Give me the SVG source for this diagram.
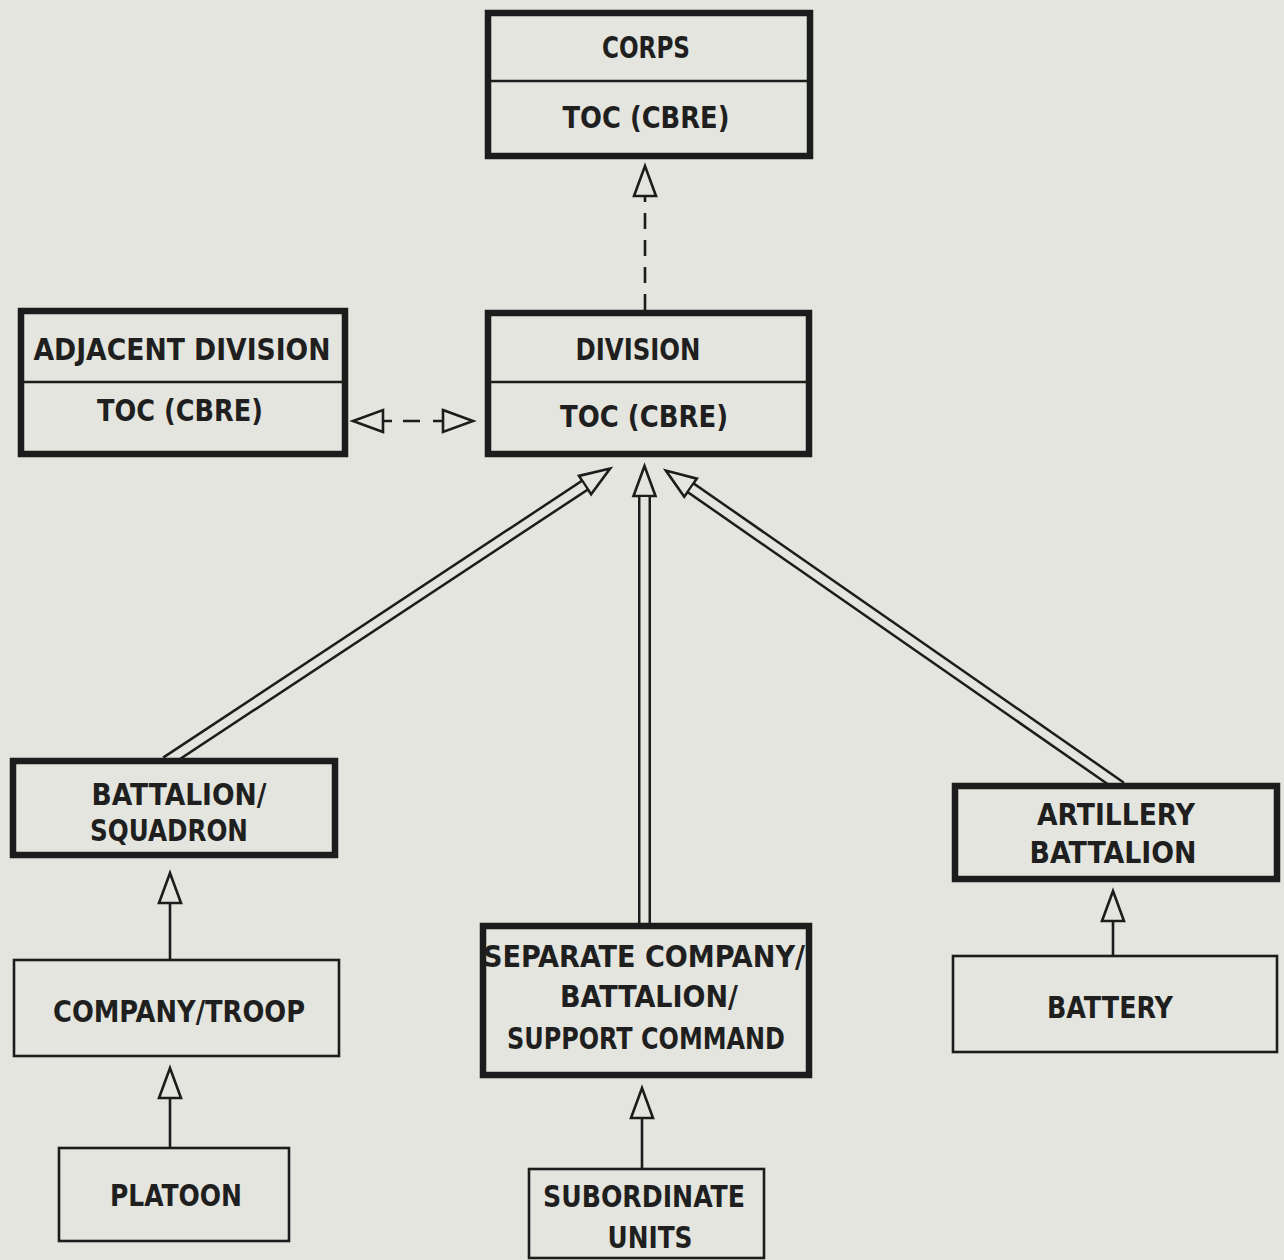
<svg xmlns="http://www.w3.org/2000/svg" width="1284" height="1260" viewBox="0 0 1284 1260">
<defs>
<style>
.bg{fill:#e4e5de}
.thick{fill:#e4e5de;stroke:#1c1c1c;stroke-width:6.5}
.thin{fill:#e4e5de;stroke:#1c1c1c;stroke-width:2.6}
.div{stroke:#1c1c1c;stroke-width:2.6}
.t{font-family:"DejaVu Sans Condensed","DejaVu Sans",sans-serif;font-weight:bold;font-size:30px;fill:#1f1f1f;text-anchor:middle}
.ln{stroke:#1c1c1c;stroke-width:2.6;fill:none}
.dark{stroke:#1c1c1c;stroke-width:13;fill:none}
.light{stroke:#e4e5de;stroke-width:8;fill:none}
</style>
<marker id="ah" markerUnits="userSpaceOnUse" markerWidth="40" markerHeight="30" refX="1" refY="11" orient="auto-start-reverse" overflow="visible">
<path d="M0,0 L30,11 L0,22 Z" fill="#e4e5de" stroke="#1c1c1c" stroke-width="2.6" stroke-linejoin="miter"/>
</marker>
</defs>
<rect class="bg" x="0" y="0" width="1284" height="1260"/>
<g id="connectors">
<line class="ln" x1="645" y1="310" x2="645" y2="195" stroke-dasharray="16 11" marker-end="url(#ah)"/>
<line class="ln" x1="382" y1="421" x2="444" y2="421" stroke-dasharray="10 11 17 13 11" marker-start="url(#ah)" marker-end="url(#ah)"/>
<line class="dark" x1="644.5" y1="926" x2="644.5" y2="495" marker-end="url(#ah)"/>
<line class="light" x1="644.5" y1="926" x2="644.5" y2="497"/>
<line class="dark" x1="166" y1="762" x2="585.9" y2="484.5" marker-end="url(#ah)"/>
<line class="light" x1="166" y1="762" x2="584.2" y2="485.6"/>
<line class="dark" x1="1121" y1="787" x2="689.7" y2="487.1" marker-end="url(#ah)"/>
<line class="light" x1="1121" y1="787" x2="691.3" y2="488.2"/>
<line class="ln" x1="170" y1="960" x2="170" y2="902" marker-end="url(#ah)"/>
<line class="ln" x1="170" y1="1148" x2="170" y2="1097" marker-end="url(#ah)"/>
<line class="ln" x1="642" y1="1169" x2="642" y2="1117" marker-end="url(#ah)"/>
<line class="ln" x1="1113" y1="956" x2="1113" y2="920" marker-end="url(#ah)"/>
</g>
<g id="corps">
<rect class="thick" x="488" y="13" width="322" height="143"/>
<line class="div" x1="488" y1="81" x2="810" y2="81"/>
<text class="t" x="646" y="58" textLength="88" lengthAdjust="spacingAndGlyphs">CORPS</text>
<text class="t" x="646" y="128" textLength="167" lengthAdjust="spacingAndGlyphs">TOC (CBRE)</text>
</g>
<g id="division">
<rect class="thick" x="488" y="313" width="321" height="141"/>
<line class="div" x1="488" y1="382" x2="809" y2="382"/>
<text class="t" x="638" y="360" textLength="125" lengthAdjust="spacingAndGlyphs">DIVISION</text>
<text class="t" x="644" y="427" textLength="168" lengthAdjust="spacingAndGlyphs">TOC (CBRE)</text>
</g>
<g id="adjacent-division">
<rect class="thick" x="21" y="311" width="324" height="143"/>
<line class="div" x1="21" y1="382" x2="345" y2="382"/>
<text class="t" x="182" y="360" textLength="297" lengthAdjust="spacingAndGlyphs">ADJACENT DIVISION</text>
<text class="t" x="180" y="421" textLength="166" lengthAdjust="spacingAndGlyphs">TOC (CBRE)</text>
</g>
<g id="battalion-squadron">
<rect class="thick" x="13" y="761" width="322" height="94"/>
<text class="t" x="179" y="805" textLength="175" lengthAdjust="spacingAndGlyphs">BATTALION/</text>
<text class="t" x="169" y="841" textLength="158" lengthAdjust="spacingAndGlyphs">SQUADRON</text>
</g>
<g id="company-troop">
<rect class="thin" x="14" y="960" width="325" height="96"/>
<text class="t" x="179" y="1022" textLength="252" lengthAdjust="spacingAndGlyphs">COMPANY/TROOP</text>
</g>
<g id="platoon">
<rect class="thin" x="59" y="1148" width="230" height="93"/>
<text class="t" x="176" y="1206" textLength="132" lengthAdjust="spacingAndGlyphs">PLATOON</text>
</g>
<g id="separate-company">
<rect class="thick" x="483" y="926" width="326" height="149"/>
<text class="t" x="644" y="967" textLength="322" lengthAdjust="spacingAndGlyphs">SEPARATE COMPANY/</text>
<text class="t" x="649" y="1007" textLength="178" lengthAdjust="spacingAndGlyphs">BATTALION/</text>
<text class="t" x="646" y="1049" textLength="278" lengthAdjust="spacingAndGlyphs">SUPPORT COMMAND</text>
</g>
<g id="subordinate-units">
<rect class="thin" x="529" y="1169" width="235" height="89"/>
<text class="t" x="644" y="1207" textLength="202" lengthAdjust="spacingAndGlyphs">SUBORDINATE</text>
<text class="t" x="650" y="1248" textLength="85" lengthAdjust="spacingAndGlyphs">UNITS</text>
</g>
<g id="artillery-battalion">
<rect class="thick" x="955" y="786" width="322" height="93"/>
<text class="t" x="1116" y="825" textLength="158" lengthAdjust="spacingAndGlyphs">ARTILLERY</text>
<text class="t" x="1113" y="863" textLength="167" lengthAdjust="spacingAndGlyphs">BATTALION</text>
</g>
<g id="battery">
<rect class="thin" x="953" y="956" width="324" height="96"/>
<text class="t" x="1110" y="1018" textLength="126" lengthAdjust="spacingAndGlyphs">BATTERY</text>
</g>
</svg>
